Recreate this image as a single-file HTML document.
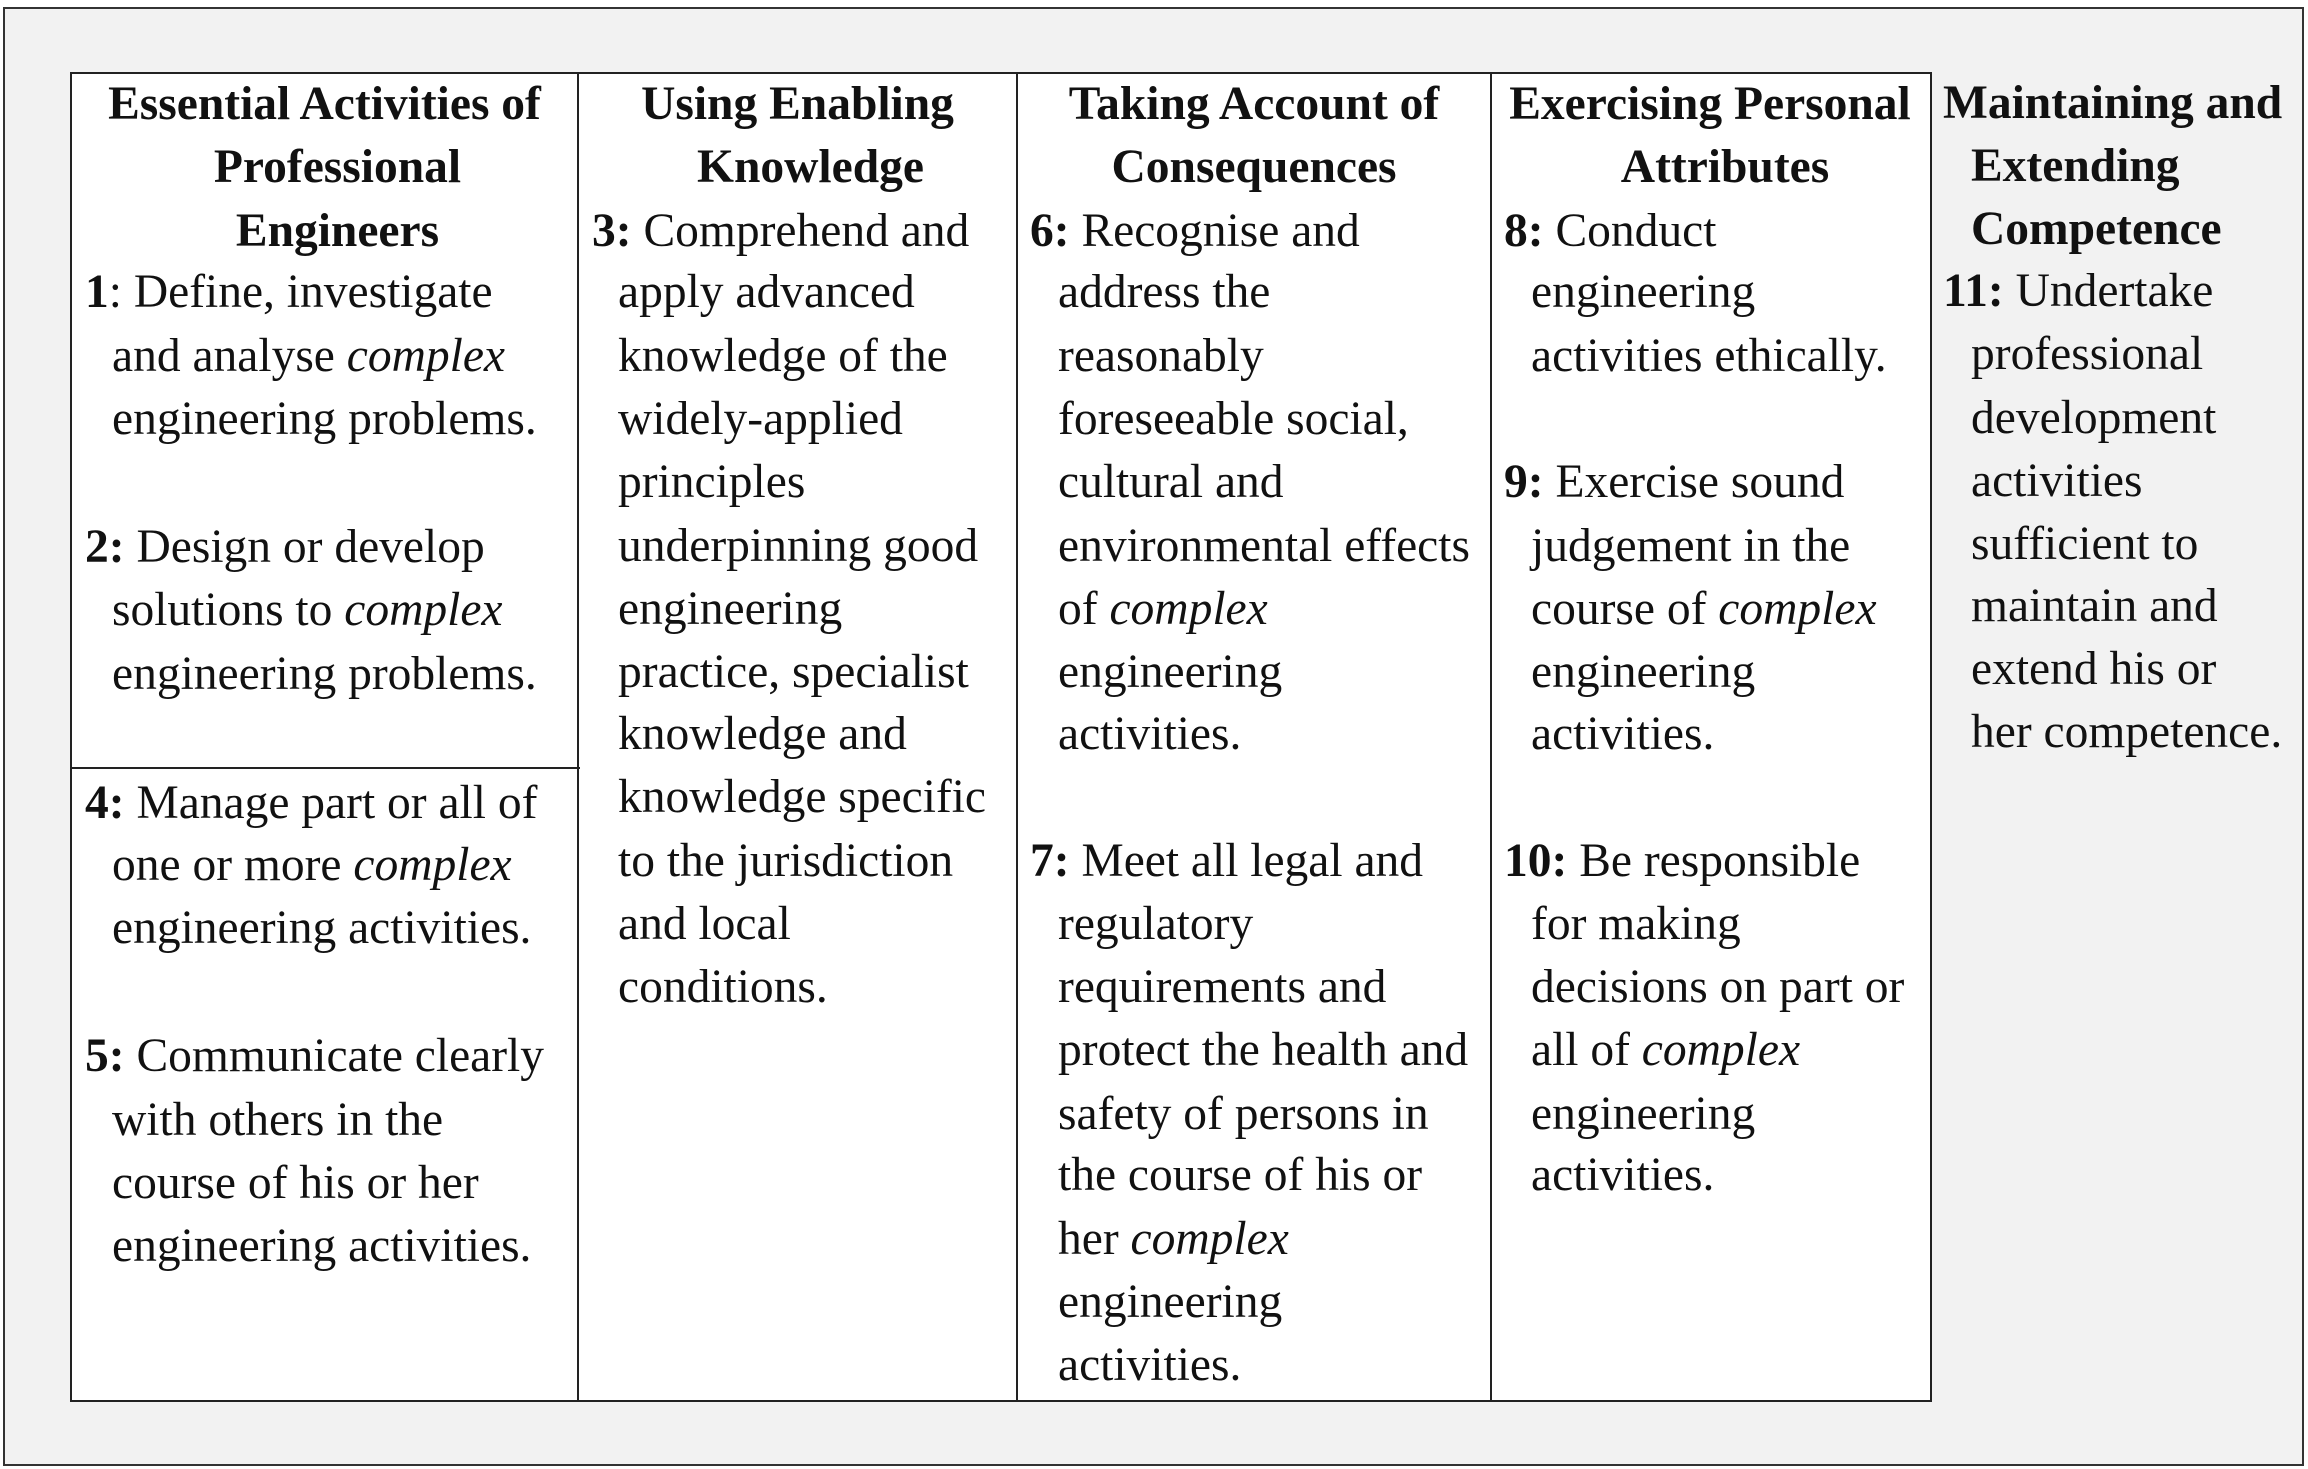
<!DOCTYPE html>
<html><head><meta charset="utf-8"><style>
html,body{margin:0;padding:0}
body{width:2308px;height:1469px;background:#fff;position:relative;overflow:hidden;font-family:"Liberation Serif",serif;font-size:47.5px;color:#111}
.outer{position:absolute;left:3px;top:7px;width:2297px;height:1455px;border:2px solid #333;background:#f2f2f2}
.tbl{position:absolute;left:70px;top:72px;width:1858px;height:1326px;border:2px solid #222;background:#fff}
.v{position:absolute;top:72px;width:2px;height:1330px;background:#222}
.h{position:absolute;left:70px;top:767px;width:510px;height:2px;background:#222}
.l{position:absolute;line-height:63px;height:63px;white-space:nowrap;margin-top:1.5px}
.c{text-align:center}
b{font-weight:bold}
</style></head><body>
<div class="outer"></div>
<div class="tbl"></div>
<div class="v" style="left:577px"></div>
<div class="v" style="left:1016px"></div>
<div class="v" style="left:1490px"></div>
<div class="h"></div>

<!-- col1 -->
<div class="l c" style="left:72px;width:505px;top:71.5px"><b>Essential Activities of</b></div>
<div class="l c" style="left:85px;width:505px;top:134.8px"><b>Professional</b></div>
<div class="l c" style="left:85px;width:505px;top:198.1px"><b>Engineers</b></div>
<div class="l" style="left:85px;top:259.9px"><b>1</b>: Define, investigate</div>
<div class="l" style="left:112px;top:323.2px">and analyse <i>complex</i></div>
<div class="l" style="left:112px;top:386.5px">engineering problems.</div>
<div class="l" style="left:85px;top:514.5px"><b>2:</b> Design or develop</div>
<div class="l" style="left:112px;top:577.8px">solutions to <i>complex</i></div>
<div class="l" style="left:112px;top:641.1px">engineering problems.</div>
<div class="l" style="left:85px;top:770.6px"><b>4:</b> Manage part or all of</div>
<div class="l" style="left:112px;top:832.4px">one or more <i>complex</i></div>
<div class="l" style="left:112px;top:895.7px">engineering activities.</div>
<div class="l" style="left:85px;top:1023.7px"><b>5:</b> Communicate clearly</div>
<div class="l" style="left:112px;top:1087px">with others in the</div>
<div class="l" style="left:112px;top:1150.3px">course of his or her</div>
<div class="l" style="left:112px;top:1213.6px">engineering activities.</div>

<!-- col2 -->
<div class="l c" style="left:579px;width:437px;top:71.5px"><b>Using Enabling</b></div>
<div class="l c" style="left:592px;width:437px;top:134.8px"><b>Knowledge</b></div>
<div class="l" style="left:592px;top:198.1px"><b>3:</b> Comprehend and</div>
<div class="l" style="left:618px;top:259.9px">apply advanced</div>
<div class="l" style="left:618px;top:323.2px">knowledge of the</div>
<div class="l" style="left:618px;top:386.5px">widely-applied</div>
<div class="l" style="left:618px;top:449.7px">principles</div>
<div class="l" style="left:618px;top:513px">underpinning good</div>
<div class="l" style="left:618px;top:576.3px">engineering</div>
<div class="l" style="left:618px;top:639.6px">practice, specialist</div>
<div class="l" style="left:618px;top:701.4px">knowledge and</div>
<div class="l" style="left:618px;top:764.7px">knowledge specific</div>
<div class="l" style="left:618px;top:828px">to the jurisdiction</div>
<div class="l" style="left:618px;top:891.3px">and local</div>
<div class="l" style="left:618px;top:954.5px">conditions.</div>

<!-- col3 -->
<div class="l c" style="left:1018px;width:472px;top:71.5px"><b>Taking Account of</b></div>
<div class="l c" style="left:1018px;width:472px;top:134.8px"><b>Consequences</b></div>
<div class="l" style="left:1030px;top:198.1px"><b>6:</b> Recognise and</div>
<div class="l" style="left:1058px;top:259.9px">address the</div>
<div class="l" style="left:1058px;top:323.2px">reasonably</div>
<div class="l" style="left:1058px;top:386.5px">foreseeable social,</div>
<div class="l" style="left:1058px;top:449.7px">cultural and</div>
<div class="l" style="left:1058px;top:513px">environmental effects</div>
<div class="l" style="left:1058px;top:576.3px">of <i>complex</i></div>
<div class="l" style="left:1058px;top:639.6px">engineering</div>
<div class="l" style="left:1058px;top:701.4px">activities.</div>
<div class="l" style="left:1030px;top:828px"><b>7:</b> Meet all legal and</div>
<div class="l" style="left:1058px;top:891.3px">regulatory</div>
<div class="l" style="left:1058px;top:954.5px">requirements and</div>
<div class="l" style="left:1058px;top:1017.8px">protect the health and</div>
<div class="l" style="left:1058px;top:1081.1px">safety of persons in</div>
<div class="l" style="left:1058px;top:1142.9px">the course of his or</div>
<div class="l" style="left:1058px;top:1206.2px">her <i>complex</i></div>
<div class="l" style="left:1058px;top:1269.5px">engineering</div>
<div class="l" style="left:1058px;top:1332.8px">activities.</div>

<!-- col4 -->
<div class="l c" style="left:1492px;width:436px;top:71.5px"><b>Exercising Personal</b></div>
<div class="l c" style="left:1507px;width:436px;top:134.8px"><b>Attributes</b></div>
<div class="l" style="left:1504px;top:198.1px"><b>8:</b> Conduct</div>
<div class="l" style="left:1531px;top:259.9px">engineering</div>
<div class="l" style="left:1531px;top:323.2px">activities ethically.</div>
<div class="l" style="left:1504px;top:449.7px"><b>9:</b> Exercise sound</div>
<div class="l" style="left:1531px;top:513px">judgement in the</div>
<div class="l" style="left:1531px;top:576.3px">course of <i>complex</i></div>
<div class="l" style="left:1531px;top:639.6px">engineering</div>
<div class="l" style="left:1531px;top:701.4px">activities.</div>
<div class="l" style="left:1504px;top:828px"><b>10:</b> Be responsible</div>
<div class="l" style="left:1531px;top:891.3px">for making</div>
<div class="l" style="left:1531px;top:954.5px">decisions on part or</div>
<div class="l" style="left:1531px;top:1017.8px">all of <i>complex</i></div>
<div class="l" style="left:1531px;top:1081.1px">engineering</div>
<div class="l" style="left:1531px;top:1142.9px">activities.</div>

<!-- col5 -->
<div class="l" style="left:1943px;top:70px"><b>Maintaining and</b></div>
<div class="l" style="left:1971px;top:133.3px"><b>Extending</b></div>
<div class="l" style="left:1971px;top:196.6px"><b>Competence</b></div>
<div class="l" style="left:1943px;top:258.4px"><b>11:</b> Undertake</div>
<div class="l" style="left:1971px;top:321.7px">professional</div>
<div class="l" style="left:1971px;top:385px">development</div>
<div class="l" style="left:1971px;top:448.3px">activities</div>
<div class="l" style="left:1971px;top:511.5px">sufficient to</div>
<div class="l" style="left:1971px;top:573.4px">maintain and</div>
<div class="l" style="left:1971px;top:636.6px">extend his or</div>
<div class="l" style="left:1971px;top:699.9px">her competence.</div>
</body></html>
